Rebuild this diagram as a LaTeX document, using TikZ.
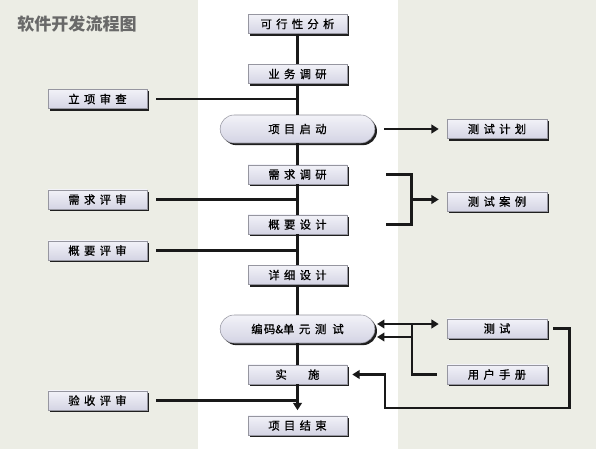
\documentclass[tikz,border=0pt]{standalone}
\usepackage{fontspec}
\usetikzlibrary{arrows.meta,shadows}
\newfontfamily\titlefont{Noto Sans CJK SC}
\newfontfamily\boxfont[LetterSpace=38,FakeBold=0.8]{Noto Sans CJK SC}
\newfontfamily\plainboxfont[FakeBold=0.8]{Noto Sans CJK SC}
\definecolor{bggray}{RGB}{236,237,229}
\definecolor{boxtop}{RGB}{242,242,248}
\definecolor{boxbot}{RGB}{212,212,228}
\definecolor{boxline}{RGB}{150,150,160}
\definecolor{titlegray}{RGB}{105,105,105}
\tikzset{
  box/.style={draw=boxline, line width=0.4pt, top color=boxtop, bottom color=boxbot,
    minimum width=74.25pt, minimum height=14.5pt, inner sep=0pt,
    font=\boxfont\fontsize{8.5}{9}\selectfont,
    drop shadow={shadow xshift=1.6pt, shadow yshift=-1.6pt, fill=black!88, opacity=1}},
  pill/.style={box, rounded corners=10.5pt, minimum width=116pt, minimum height=21pt},
  wire/.style={line width=2pt, draw=black!90},
  arr/.style={-{Triangle[length=5.5pt,width=6.5pt]}},
  arrb/.style={{Triangle[length=5.5pt,width=6.5pt]}-{Triangle[length=5.5pt,width=6.5pt]}}
}
\begin{document}
\begin{tikzpicture}[x=0.75pt,y=-0.75pt]
\useasboundingbox (0,0) rectangle (596,449);
\fill[bggray] (0,0) rectangle (596,449);
\fill[white] (198,0) rectangle (398,449);
\node[anchor=west, font=\titlefont\bfseries\fontsize{12.8}{14}\selectfont, text=titlegray, inner sep=0pt] (title) at (17,24) {软件开发流程图};

% central column
\node[box] (kx) at (297.5,24) {可行性分析};
\node[box] (yw) at (297.5,74) {业务调研};
\node[pill] (qd) at (297.5,129) {项目启动};
\node[box] (xq) at (297.5,174.5) {需求调研};
\node[box] (gy) at (297.5,224.5) {概要设计};
\node[box] (xx) at (297.5,275) {详细设计};
\node[pill, font=\plainboxfont\fontsize{8.5}{9}\selectfont] (bm) at (297.5,329) {编\hspace{1pt}码\&单\hspace{3.5pt}元\hspace{3.5pt}测\hspace{4.5pt}试};
\node[box] (ss) at (297.5,374.5) {实\hspace{16pt}施};
\node[box] (js) at (297.5,425.5) {项目结束};

% left column
\node[box] (lx) at (97.5,99) {立项审查};
\node[box] (xp) at (97.5,199.5) {需求评审};
\node[box] (gp) at (97.5,250.5) {概要评审};
\node[box] (yp) at (97.5,400.5) {验收评审};

% right column
\node[box, minimum width=75pt] (jh) at (497,129) {测试计划};
\node[box, minimum width=75pt] (al) at (497,201.5) {测试案例};
\node[box, minimum width=75pt] (cs) at (497,328.5) {测\hspace{3pt}试};
\node[box, minimum width=75pt] (sc) at (497,374.5) {用户手册};

% central line
\draw[wire] (kx) -- (yw);
\draw[wire] (yw) -- (qd);
\draw[wire] (qd) -- (xq);
\draw[wire] (xq) -- (gy);
\draw[wire] (gy) -- (xx);
\draw[wire] (xx) -- (bm);
\draw[wire] (bm) -- (ss);
\draw[wire, arr, shorten >=4pt] (ss) -- (js);

% left reviews
\draw[wire, shorten <=6.75pt] (lx.east) -- (lx.east -| kx.south);
\draw[wire, shorten <=6.75pt] (xp.east) -- (xp.east -| kx.south);
\draw[wire, shorten <=6.75pt] (gp.east) -- (gp.east -| kx.south);
\draw[wire, shorten <=6.75pt] (yp.east) -- (yp.east -| kx.south);

% test plan
\draw[wire, arr, shorten <=6.75pt, shorten >=6pt] (qd.east) -- (jh.west);

% bracket to test cases
\draw[wire] ([xshift=29.25pt]xq.east) -- ++(25,0) |- ([xshift=29.25pt]gy.east);
\path ([xshift=48pt]xq.east) -- coordinate[pos=0.5] (brk) ([xshift=48pt]gy.east);
\draw[wire, arr, shorten >=6pt] (brk) -- (brk -| al.west);

% coding & unit test connections
\coordinate (bmhi) at ([yshift=3.75pt]bm.east);
\coordinate (bmlo) at ([yshift=-6pt]bm.east);
\coordinate (sj) at (412,324);
\draw[wire, arrb, shorten <=1.5pt, shorten >=6pt] (bmhi) -- (bmhi -| cs.west);
\draw[wire] (sj) |- ([xshift=-7.5pt]sc.west);
\draw[wire, arr, shorten >=1.5pt] (bmlo -| sj) -- (bmlo);

% feedback from test to implementation
\coordinate (fbk) at (385,408);
\draw[wire, arr, shorten <=4.5pt, shorten >=3.75pt] (cs.east) -- ++(22,0) |- (fbk) |- (ss.east);
\end{tikzpicture}
\end{document}
